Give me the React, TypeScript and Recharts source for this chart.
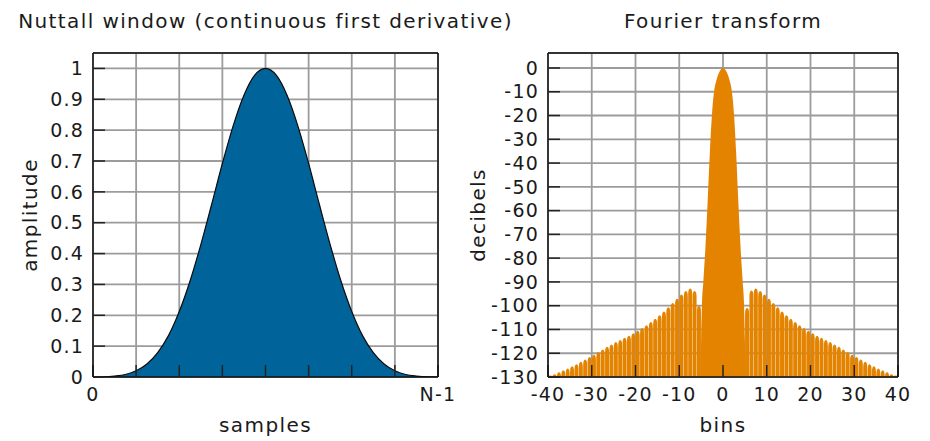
import { Area, Bar, CartesianGrid, ComposedChart, Label, XAxis, YAxis } from "recharts";

const FONT = "'DejaVu Sans', sans-serif";
const INK = "#1a1a1a";
const BLUE = "#00639a";
const ORANGE = "#e38300";
const GRID = "#9c9c9c";
const LOBE_W = 4;

// left panel: window shape, position along the window in 1/32 steps
const samplePos = [0, 1, 2, 3, 4, 5, 6, 7, 8, 9, 10, 11, 12, 13, 14, 15, 16, 17, 18, 19, 20, 21, 22, 23, 24, 25, 26, 27, 28, 29, 30, 31, 32];
const amplitude = [
  0, 0.0005, 0.003, 0.008, 0.02, 0.042, 0.079, 0.134, 0.212, 0.311, 0.429, 0.559, 0.692, 0.814, 0.913, 0.978, 1,
  0.978, 0.913, 0.814, 0.692, 0.559, 0.429, 0.311, 0.212, 0.134, 0.079, 0.042, 0.02, 0.008, 0.003, 0.0005, 0,
];
const sampleTicks = [0, 4, 8, 12, 16, 20, 24, 28, 32];
const sampleTickText: Record<number, string> = { 0: "0", 32: "N-1" };
const ampTicks = [0, 0.1, 0.2, 0.3, 0.4, 0.5, 0.6, 0.7, 0.8, 0.9, 1];

// right panel: main lobe outline (bins, dB)
const mainLobeBins = [-5.2, -5, -4.8, -4.5, -4, -3.5, -3, -2.5, -2, -1.5, -1, -0.5, 0, 0.5, 1, 1.5, 2, 2.5, 3, 3.5, 4, 4.5, 4.8, 5, 5.2];
const mainLobeDb = [-130, -114, -99, -90, -75, -56, -35.5, -19, -9.5, -5.2, -2.3, -0.6, 0, -0.6, -2.3, -5.2, -9.5, -19, -35.5, -56, -75, -90, -99, -114, -130];

// sidelobe peaks, one per bin
const leftLobeBins = [
  -39.5, -38.5, -37.5, -36.5, -35.5, -34.5, -33.5, -32.5, -31.5, -30.5, -29.5, -28.5, -27.5, -26.5, -25.5, -24.5, -23.5, -22.5,
  -21.5, -20.5, -19.5, -18.5, -17.5, -16.5, -15.5, -14.5, -13.5, -12.5, -11.5, -10.5, -9.5, -8.5, -7.5, -6.5, -5.5,
];
const leftLobeDb = [
  -129.4, -128.8, -128, -127.2, -126.4, -125.5, -124.6, -123.6, -122.6, -121.6, -120.6, -119.5, -118.4, -117.3, -116.3, -115.3, -114.4, -113.5,
  -112.6, -111.6, -110.5, -109.4, -108.2, -106.9, -105.5, -104, -102.4, -100.7, -98.9, -97.1, -95.3, -93.8, -92.8, -93.8, -100,
];
const rightLobeBins = [
  5.5, 6.5, 7.5, 8.5, 9.5, 10.5, 11.5, 12.5, 13.5, 14.5, 15.5, 16.5, 17.5, 18.5, 19.5, 20.5, 21.5, 22.5,
  23.5, 24.5, 25.5, 26.5, 27.5, 28.5, 29.5, 30.5, 31.5, 32.5, 33.5, 34.5, 35.5, 36.5, 37.5, 38.5, 39.5,
];
const rightLobeDb = [
  -101, -93.6, -92.8, -93.8, -95.3, -97.1, -98.9, -100.7, -102.4, -104, -105.5, -106.9, -108.2, -109.4, -110.5, -111.6, -112.6, -113.5,
  -114.4, -115.3, -116.3, -117.3, -118.4, -119.5, -120.6, -121.6, -122.6, -123.6, -124.6, -125.5, -126.4, -127.2, -128, -128.8, -129.4,
];
const binTicks = [-40, -30, -20, -10, 0, 10, 20, 30, 40];
const dbTicks = [0, -10, -20, -30, -40, -50, -60, -70, -80, -90, -100, -110, -120, -130];
const DB_FLOOR = -130;

const windowData = samplePos.map((x, i) => ({ x, amp: amplitude[i] }));

const lobeData = [
  ...leftLobeBins.map((bin, i) => ({ bin, lobe: [DB_FLOOR, leftLobeDb[i]] })),
  ...rightLobeBins.map((bin, i) => ({ bin, lobe: [DB_FLOOR, rightLobeDb[i]] })),
];
const mainLobeData = mainLobeBins.map((bin, i) => ({ bin, main: mainLobeDb[i] }));

const tickStyle = { fontSize: 19, fill: INK, fontFamily: FONT, letterSpacing: 1.2 };
const labelStyle = { fontSize: 20, fill: INK, fontFamily: FONT, letterSpacing: 1.4, textAnchor: "middle" as const };
const frame = { stroke: "#111", strokeWidth: 1.5 };
const inTick = { stroke: "#222", strokeWidth: 1.5 };

// bars on a numeric axis get a tiny band; draw each lobe with a fixed width around its centre and a pointed top
function LobeShape(props: any) {
  const { x, y, width, height } = props;
  if (x == null || y == null) return null;
  const cx = x + width / 2;
  const top = Math.min(y, y + height);
  const bottom = Math.max(y, y + height);
  const l = cx - LOBE_W / 2;
  const r = cx + LOBE_W / 2;
  const k = Math.min(6, bottom - top);
  const d = `M${l},${bottom} L${l},${top + k} Q${l},${top} ${cx},${top} Q${r},${top} ${r},${top + k} L${r},${bottom} Z`;
  return <path d={d} fill={ORANGE} />;
}

function WindowPanel() {
  return (
    <ComposedChart width={470} height={441} data={windowData} margin={{ top: 52, right: 31, bottom: 0, left: 0 }}>
      <CartesianGrid stroke={GRID} strokeWidth={1.8} />
      <XAxis
        dataKey="x"
        type="number"
        domain={[0, 32]}
        ticks={sampleTicks}
        tickFormatter={(v: number) => sampleTickText[v] ?? ""}
        height={64}
        tickSize={-12}
        tickMargin={23}
        tick={tickStyle}
        axisLine={frame}
        tickLine={inTick}
        interval={0}
      >
        <Label value="samples" position="insideBottom" offset={9} style={labelStyle} />
      </XAxis>
      <XAxis xAxisId="top" orientation="top" type="number" dataKey="x" domain={[0, 32]} ticks={sampleTicks} height={1} tick={false} tickSize={-12} axisLine={frame} tickLine={inTick} />
      <YAxis
        type="number"
        domain={[0, 1.05]}
        ticks={ampTicks}
        width={93}
        tickSize={-12}
        tickMargin={21}
        tick={tickStyle}
        axisLine={frame}
        tickLine={inTick}
        interval={0}
        allowDataOverflow
      >
        <Label value="amplitude" angle={-90} position="insideLeft" offset={30} style={labelStyle} />
      </YAxis>
      <YAxis yAxisId="r" orientation="right" type="number" domain={[0, 1.05]} ticks={ampTicks} width={1} tick={false} tickSize={-12} axisLine={frame} tickLine={inTick} allowDataOverflow />
      <Area type="monotone" dataKey="amp" fill={BLUE} fillOpacity={1} stroke="#0b0b0b" strokeWidth={1.2} isAnimationActive={false} />
    </ComposedChart>
  );
}

function SpectrumPanel() {
  return (
    <ComposedChart width={470} height={441} data={lobeData} margin={{ top: 52, right: 31, bottom: 0, left: 0 }}>
      <CartesianGrid stroke={GRID} strokeWidth={1.8} />
      <XAxis
        dataKey="bin"
        type="number"
        domain={[-40, 40]}
        ticks={binTicks}
        height={64}
        tickSize={-12}
        tickMargin={23}
        tick={tickStyle}
        axisLine={frame}
        tickLine={inTick}
        interval={0}
        allowDataOverflow
      >
        <Label value="bins" position="insideBottom" offset={9} style={labelStyle} />
      </XAxis>
      <XAxis xAxisId="top" orientation="top" type="number" dataKey="bin" domain={[-40, 40]} ticks={binTicks} height={1} tick={false} tickSize={-12} axisLine={frame} tickLine={inTick} allowDataOverflow />
      <YAxis
        type="number"
        domain={[DB_FLOOR, 6.3]}
        ticks={dbTicks}
        width={88}
        tickSize={-12}
        tickMargin={21}
        tick={tickStyle}
        axisLine={frame}
        tickLine={inTick}
        interval={0}
        allowDataOverflow
      >
        <Label value="decibels" angle={-90} position="insideLeft" offset={18} style={labelStyle} />
      </YAxis>
      <YAxis yAxisId="r" orientation="right" type="number" domain={[DB_FLOOR, 6.3]} ticks={dbTicks} width={1} tick={false} tickSize={-12} axisLine={frame} tickLine={inTick} allowDataOverflow />
      <Bar dataKey="lobe" fill={ORANGE} shape={LobeShape} isAnimationActive={false} />
      <Area data={mainLobeData} type="monotone" dataKey="main" baseValue={DB_FLOOR} fill={ORANGE} fillOpacity={1} stroke="none" isAnimationActive={false} />
    </ComposedChart>
  );
}

export default function App() {
  return (
    <div style={{ position: "absolute", left: 0, top: 0, width: 930, height: 441, background: "#fff", fontFamily: FONT }}>
      <div style={{ position: "absolute", left: 0, top: 0 }}>
        <WindowPanel />
      </div>
      <div style={{ position: "absolute", left: 460, top: 0 }}>
        <SpectrumPanel />
      </div>
      <svg width={930} height={441} style={{ position: "absolute", left: 0, top: 0, pointerEvents: "none" }}>
        <text x={265.5} y={28} textAnchor="middle" fontSize={20} fill={INK} fontFamily={FONT} letterSpacing={1.4}>
          Nuttall window (continuous first derivative)
        </text>
        <text x={723} y={28} textAnchor="middle" fontSize={20} fill={INK} fontFamily={FONT} letterSpacing={1.4}>
          Fourier transform
        </text>
      </svg>
    </div>
  );
}
